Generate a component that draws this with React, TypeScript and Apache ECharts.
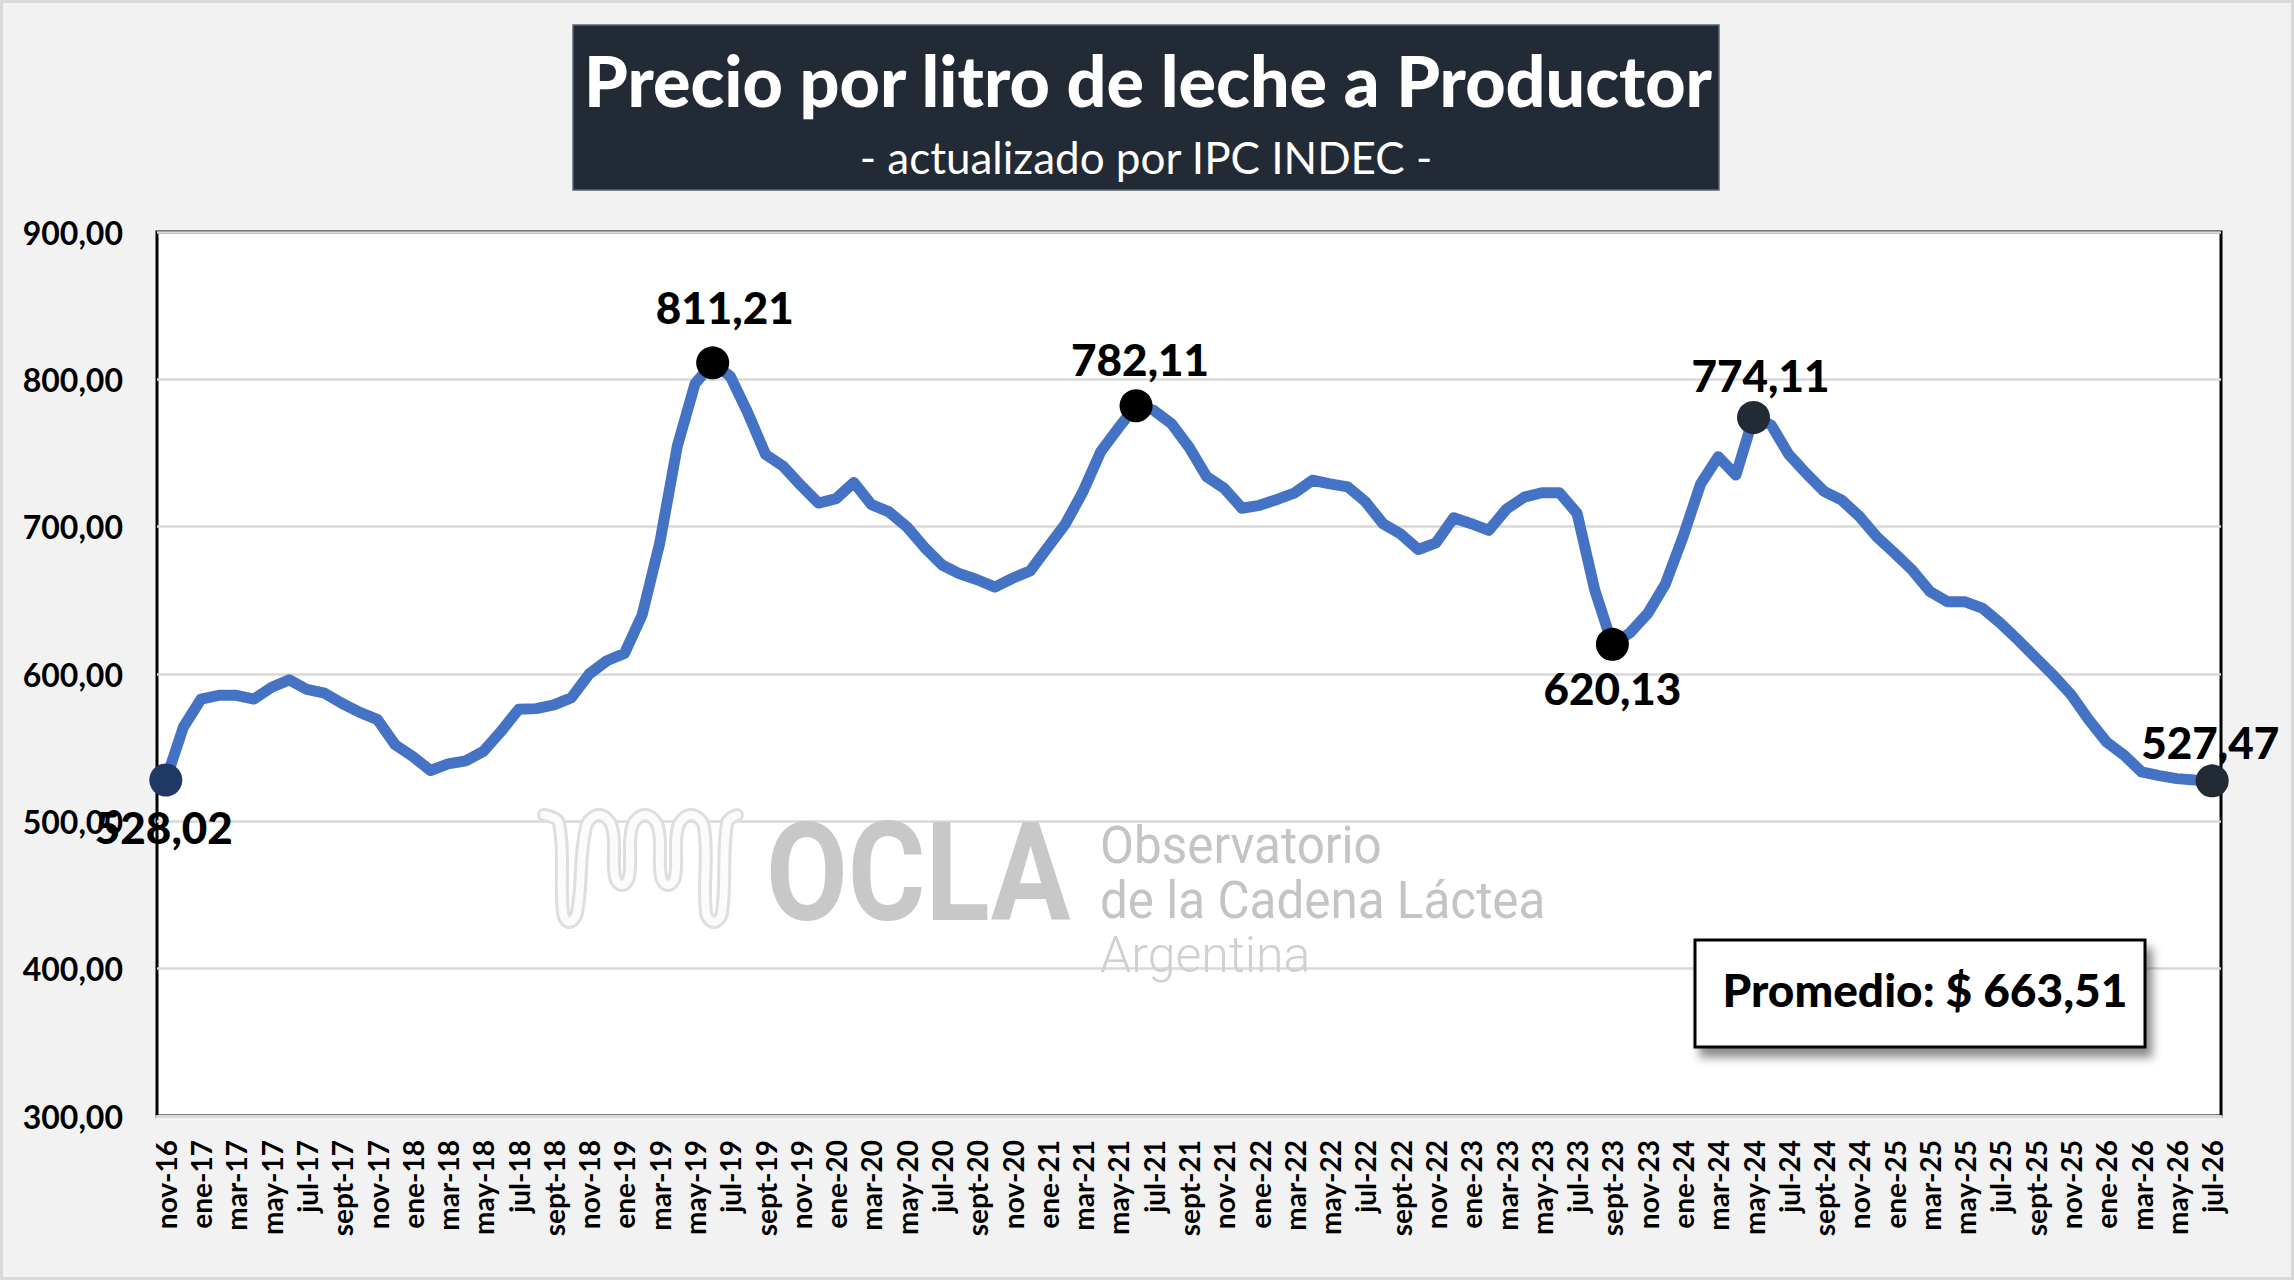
import React, { useEffect, useRef } from "react";
import * as echarts from "echarts";

// ---- data ----
const MONTH_NAMES = ["ene", "feb", "mar", "abr", "may", "jun", "jul", "ago", "sept", "oct", "nov", "dic"];
const START_YEAR = 2016;
const START_MONTH = 10; // nov

const VALUES = [
  528.02, 564, 583, 585.5, 585.5, 583, 591, 596, 589.5, 587,
  580, 574, 569, 552, 544, 534.5, 539, 541, 547.5, 561,
  576, 576.5, 579, 584, 600, 609, 614, 640, 689, 755,
  797, 811.21, 802, 777, 749, 741, 728, 716, 719, 730,
  715, 710, 700, 686, 674, 668, 664, 659, 665, 670,
  686, 702, 724, 751, 767, 782.11, 779, 770, 754, 734,
  726, 712.5, 714.5, 718.5, 723, 731.5, 729, 727, 717, 702,
  695, 684.5, 689, 706, 702, 697.5, 712, 720, 723, 723,
  709, 657, 620.13, 628, 641, 661, 693, 729, 747.5, 735,
  774.11, 769, 749, 736, 724, 718, 707, 693, 682, 670.5,
  656, 649, 649, 644.5, 634.5, 623, 611, 599, 586, 569,
  554, 545, 533.5, 531, 529, 528, 527.47,
];

const CATEGORIES = VALUES.map((_, i) => {
  const k = START_MONTH + i;
  const m = k % 12;
  const y = START_YEAR + Math.floor(k / 12);
  return `${MONTH_NAMES[m]}-${String(y).slice(2)}`;
});

const HIGHLIGHT_INDEX = [0, 31, 55, 82, 90, 116];

const Y_MIN = 300;
const Y_MAX = 900;
const Y_STEP = 100;

const TITLE = "Precio por litro de leche a Productor";
const SUBTITLE = "- actualizado por IPC INDEC -";
const AVERAGE_TEXT = "Promedio: $ 663,51";

// ---- styles ----
const HIGHLIGHT_COLORS = ["#1f3864", "#000000", "#000000", "#000000", "#222a35", "#222a35"];
const LABEL_OFFSETS = [
  [-2, 47],
  [12, -56],
  [4, -47],
  [0, 44],
  [7, -42],
  [-2, -39],
];

const fmt = (v: number) => v.toFixed(2).replace(".", ",");

const ICON_POINTS = [
  [544, 815], [559, 823], [563, 913], [569, 922], [577, 913], [586, 827], [599, 815], [612, 827],
  [615, 877], [622, 885], [629, 877], [632, 827], [645, 815], [658, 827], [661, 877], [668, 885],
  [675, 877], [678, 827], [691, 815], [704, 827], [706, 913], [714, 922], [722, 913], [727, 823], [737, 815],
];

export default function App() {
  const ref = useRef<HTMLDivElement>(null);

  useEffect(() => {
    if (!ref.current) return;
    const chart = echarts.init(ref.current, null, { renderer: "svg" });

    const scatterData = HIGHLIGHT_INDEX.map((idx, k) => ({
      value: [idx, VALUES[idx]],
      itemStyle: { color: HIGHLIGHT_COLORS[k], opacity: 1 },
      label: { offset: LABEL_OFFSETS[k] },
    }));

    const option: any = {
      animation: false,
      backgroundColor: "#f2f2f2",
      grid: {
        left: 157,
        top: 232,
        width: 2064,
        height: 884,
        containLabel: false,
        outerBoundsMode: "none",
        show: true,
        backgroundColor: "#ffffff",
        borderColor: "#000000",
        borderWidth: 3,
      },
      xAxis: {
        type: "category",
        data: CATEGORIES,
        boundaryGap: true,
        axisLine: { show: true, lineStyle: { color: "#d9d9d9", width: 3 } },
        axisTick: { show: false },
        axisLabel: {
          interval: 1,
          rotate: 90,
          margin: 24,
          color: "#000",
          fontFamily: "Lato",
          fontWeight: "bold",
          fontSize: 28,
        },
        splitLine: { show: false },
      },
      yAxis: {
        type: "value",
        min: Y_MIN,
        max: Y_MAX,
        interval: Y_STEP,
        axisLine: { show: false },
        axisTick: { show: false },
        axisLabel: {
          margin: 34,
          color: "#000",
          fontFamily: "Lato",
          fontWeight: "bold",
          fontSize: 32,
          formatter: (v: number) => fmt(v),
        },
        splitLine: { show: true, lineStyle: { color: "#d9d9d9", width: 2.5 } },
      },
      series: [
        {
          type: "line",
          data: VALUES,
          symbol: "none",
          z: 3,
          lineStyle: { color: "#4472c4", width: 11, join: "round", cap: "round" },
        },
        {
          type: "scatter",
          data: scatterData,
          symbol: "circle",
          symbolSize: 33,
          z: 4,
          itemStyle: { opacity: 1 },
          label: {
            show: true,
            position: "inside",
            formatter: (p: any) => fmt(p.value[1]),
            color: "#000000",
            opacity: 1,
            fontFamily: "Lato",
            fontWeight: 900,
            fontSize: 44,
          },
        },
      ],
      graphic: [
        {
          type: "rect",
          silent: true,
          z: 0,
          shape: { x: 1.5, y: 1.5, width: 2291, height: 1277 },
          style: { fill: "none", stroke: "#d9d9d9", lineWidth: 3 },
        },
        {
          type: "rect",
          z: 10,
          shape: { x: 573, y: 25, width: 1146, height: 165 },
          style: { fill: "#222a35", stroke: "#5c6470", lineWidth: 1.5 },
        },
        {
          type: "text",
          z: 11,
          x: 1148,
          y: 80,
          style: {
            text: TITLE,
            fill: "#ffffff",
            fontFamily: "Lato",
            fontWeight: 900,
            fontSize: 70,
            align: "center",
            verticalAlign: "middle",
          },
        },
        {
          type: "text",
          z: 11,
          x: 1146,
          y: 157,
          style: {
            text: SUBTITLE,
            fill: "#ffffff",
            fontFamily: "Lato",
            fontSize: 44,
            align: "center",
            verticalAlign: "middle",
          },
        },
        // watermark
        {
          type: "polyline",
          z: 1,
          silent: true,
          shape: { points: ICON_POINTS, smooth: 0.4 },
          style: { fill: "none", stroke: "#dedede", lineWidth: 14, lineCap: "round", lineJoin: "round" },
        },
        {
          type: "polyline",
          z: 1,
          silent: true,
          shape: { points: ICON_POINTS, smooth: 0.4 },
          style: { fill: "none", stroke: "#fbfbfb", lineWidth: 8, lineCap: "round", lineJoin: "round" },
        },
        {
          type: "text",
          z: 1,
          silent: true,
          x: 766,
          y: 873,
          scaleX: 0.86,
          style: {
            text: "OCLA",
            fill: "#c8c8c8",
            fontFamily: "Roboto",
            fontWeight: "bold",
            fontSize: 138,
            align: "left",
            verticalAlign: "middle",
          },
        },
        {
          type: "text",
          z: 1,
          silent: true,
          x: 1100,
          y: 845,
          scaleX: 0.95,
          style: {
            text: "Observatorio",
            fill: "#c4c4c4",
            fontFamily: "Roboto",
            fontSize: 52,
            align: "left",
            verticalAlign: "middle",
          },
        },
        {
          type: "text",
          z: 1,
          silent: true,
          x: 1100,
          y: 900,
          scaleX: 0.95,
          style: {
            text: "de la Cadena Láctea",
            fill: "#c4c4c4",
            fontFamily: "Roboto",
            fontSize: 52,
            align: "left",
            verticalAlign: "middle",
          },
        },
        {
          type: "text",
          z: 1,
          silent: true,
          x: 1100,
          y: 955,
          scaleX: 1.0,
          style: {
            text: "Argentina",
            fill: "#d0d0d0",
            fontFamily: "Roboto",
            fontWeight: 300,
            fontSize: 50,
            align: "left",
            verticalAlign: "middle",
          },
        },
        // average box
        {
          type: "rect",
          z: 10,
          shape: { x: 1695, y: 940, width: 450, height: 107 },
          style: {
            fill: "#ffffff",
            stroke: "#000000",
            lineWidth: 3,
            shadowBlur: 10,
            shadowOffsetX: 6,
            shadowOffsetY: 9,
            shadowColor: "rgba(0,0,0,0.45)",
          },
        },
        {
          type: "text",
          z: 11,
          x: 1925,
          y: 989,
          style: {
            text: AVERAGE_TEXT,
            fill: "#000000",
            fontFamily: "Lato",
            fontWeight: 900,
            fontSize: 46,
            align: "center",
            verticalAlign: "middle",
          },
        },
      ],
    };

    chart.setOption(option);
    return () => chart.dispose();
  }, []);

  return (
    <div
      ref={ref}
      style={{ position: "absolute", left: 0, top: 0, width: 2294, height: 1280 }}
    />
  );
}
